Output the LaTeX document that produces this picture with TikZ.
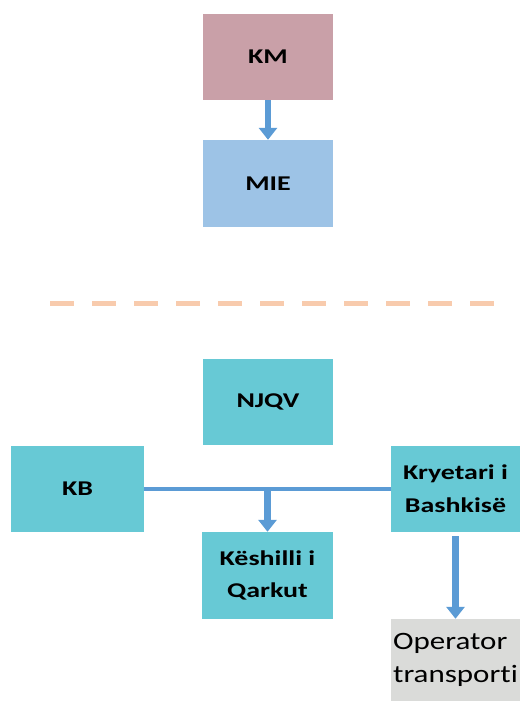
\documentclass[tikz,border=0pt]{standalone}
\usepackage{fontspec}
\setmainfont{Carlito}
\newfontfamily\boxfont{Carlito}[FakeStretch=1.33]
\newfontfamily\opfont{Carlito}[FakeStretch=1.24,Ligatures=NoCommon]
\usetikzlibrary{arrows.meta}
\definecolor{kmred}{HTML}{C9A0A8}
\definecolor{mieblue}{HTML}{9DC3E6}
\definecolor{teal}{HTML}{67C9D5}
\definecolor{opgray}{HTML}{DADBD9}
\definecolor{linkblue}{HTML}{5B9BD5}
\definecolor{sepcol}{HTML}{F8CBAD}
\begin{document}
\begin{tikzpicture}
  [x=1pt,y=-1pt,every node/.style={rectangle,inner sep=0pt,minimum width=130pt,minimum height=86pt,
   align=center,font=\boxfont\bfseries\fontsize{21}{32.6}\selectfont}]
  \tikzstyle{arr} = [draw=linkblue,line width=6.5pt,-{Triangle[width=18pt,length=12pt]}]
  \tikzstyle{link} = [draw=linkblue,line width=4pt]
  \useasboundingbox (0,0) rectangle (520,701);
  \node[fill=kmred] (km) at (268,57) {KM};
  \node[fill=mieblue,minimum height=87pt] (mie) at (268,183.5) {MIE};
  \draw[sepcol,line width=5pt,dash pattern=on 24pt off 18pt] (50,303) -- (494,303);
  \node[fill=teal] (njqv) at (268,402) {NJQV};
  \node[fill=teal,minimum width=133pt] (kb) at (77.5,489) {KB};
  \node[fill=teal,minimum width=129pt] (kr) at (455.5,489) {Kryetari i\\Bashkisë};
  \node[fill=teal,minimum width=131pt,minimum height=87pt] (kq) at (267.5,575.5) {Këshilli i\\Qarkut};
  \node[fill=opgray,minimum width=129pt,minimum height=82pt,align=left,
        font=\opfont\fontsize{25}{32.6}\selectfont] (op) at (455.5,660) {Operator\\transporti};

  \draw[arr] (km) -- (mie);
  \draw[link] (kb.east) -- (kr.west);
  \draw[arr] (kb.east -| kq.north) -- (kq.north);
  \draw[arr,shorten <=4pt] (kr.south) -- (op.north);
\end{tikzpicture}
\end{document}
